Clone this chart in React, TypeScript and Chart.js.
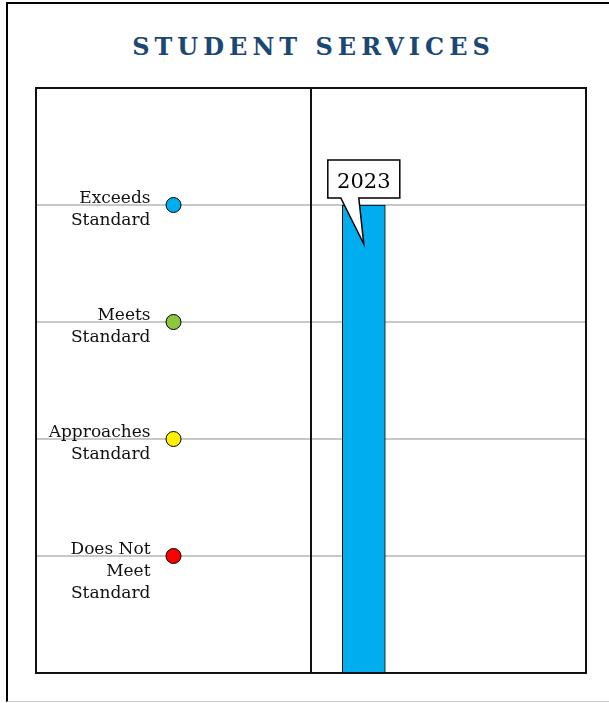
import React, { useEffect, useRef } from "react";
import { Chart, registerables } from "chart.js";

Chart.register(...registerables);

const TITLE = "STUDENT SERVICES";

// Performance levels (y values), their labels and marker colours
const LEVEL_VALUES = [4, 3, 2, 1];
const LEVEL_LABELS = [
  ["Exceeds", "Standard"],
  ["Meets", "Standard"],
  ["Approaches", "Standard"],
  ["Does Not", "Meet", "Standard"],
];
const LEVEL_COLORS = ["#00AEEF", "#8DC63F", "#FFF200", "#FF0000"];
const LEGEND_X = 2.5;

// Years shown in the right panel
const YEARS = ["2023"];
const YEAR_X = [5.96];
const YEAR_VALUES = [4];
const BAR_COLORS = ["#00AEEF"];

const X_MIN = 0;
const X_MAX = 10;
const DIVIDER_X = 5;
const Y_MIN = 0;
const Y_MAX = 5;

const LABEL_FONT = "17px 'DejaVu Serif'";
const CALLOUT_FONT = "21px 'DejaVu Serif'";

const panelPlugin = {
  id: "panelPlugin",
  afterDatasetsDraw(chart: any) {
    const { ctx, chartArea, scales } = chart;
    const xs = scales.x;

    // level labels next to the scatter markers
    const dotMeta = chart.getDatasetMeta(1);
    ctx.save();
    ctx.font = LABEL_FONT;
    ctx.fillStyle = "#111111";
    ctx.textAlign = "right";
    ctx.textBaseline = "alphabetic";
    dotMeta.data.forEach((el: any, i: number) => {
      const lines = LEVEL_LABELS[i] || [];
      lines.forEach((line: string, j: number) => {
        ctx.fillText(line, el.x - 23, el.y - 2 + j * 22);
      });
    });
    ctx.restore();

    // divider and frame
    ctx.save();
    ctx.strokeStyle = "#111111";
    ctx.lineWidth = 2;
    const dx = Math.round(xs.getPixelForValue(DIVIDER_X));
    ctx.beginPath();
    ctx.moveTo(dx, chartArea.top);
    ctx.lineTo(dx, chartArea.bottom);
    ctx.stroke();
    ctx.strokeRect(
      chartArea.left,
      chartArea.top,
      chartArea.right - chartArea.left,
      chartArea.bottom - chartArea.top
    );
    ctx.restore();

    // callouts for the bars
    const barMeta = chart.getDatasetMeta(0);
    barMeta.data.forEach((el: any, i: number) => {
      const x = el.x;
      const y = el.y;
      const l = x - 36;
      const r = x + 36;
      const t = y - 45;
      const b = y - 7;
      ctx.save();
      ctx.beginPath();
      ctx.moveTo(l, t);
      ctx.lineTo(r, t);
      ctx.lineTo(r, b);
      ctx.lineTo(x - 5, b);
      ctx.lineTo(x, y + 39);
      ctx.lineTo(x - 23, b);
      ctx.lineTo(l, b);
      ctx.closePath();
      ctx.fillStyle = "#ffffff";
      ctx.fill();
      ctx.strokeStyle = "#000000";
      ctx.lineWidth = 1.5;
      ctx.lineJoin = "miter";
      ctx.stroke();
      ctx.font = CALLOUT_FONT;
      ctx.fillStyle = "#000000";
      ctx.textAlign = "center";
      ctx.textBaseline = "alphabetic";
      ctx.fillText(YEARS[i], x, y - 17);
      ctx.restore();
    });
  },
};

export default function App() {
  const canvasRef = useRef<HTMLCanvasElement | null>(null);

  useEffect(() => {
    if (!canvasRef.current) return;
    const chart = new Chart(canvasRef.current, {
      type: "bar",
      data: {
        datasets: [
          {
            type: "bar",
            label: YEARS[0],
            data: YEAR_X.map((x, i) => ({ x, y: YEAR_VALUES[i] })),
            backgroundColor: BAR_COLORS,
            borderColor: "#000000",
            borderWidth: 1,
            barThickness: 43,
            borderSkipped: "start",
          } as any,
          {
            type: "scatter",
            label: "levels",
            data: LEVEL_VALUES.map((v) => ({ x: LEGEND_X, y: v })),
            backgroundColor: LEVEL_COLORS,
            borderColor: "#000000",
            borderWidth: 1,
            pointRadius: 7.5,
            pointHoverRadius: 7.5,
          } as any,
        ],
      },
      options: {
        responsive: false,
        animation: false,
        devicePixelRatio: 1,
        layout: { padding: { left: 36, top: 88, right: 23, bottom: 30 } },
        plugins: {
          legend: { display: false },
          tooltip: { enabled: false },
          title: { display: false },
        },
        events: [],
        scales: {
          x: {
            type: "linear",
            min: X_MIN,
            max: X_MAX,
            offset: false,
            display: false,
          },
          y: {
            type: "linear",
            min: Y_MIN,
            max: Y_MAX,
            ticks: { stepSize: 1, display: false },
            grid: {
              color: (c: any) =>
                c.tick && (c.tick.value === Y_MIN || c.tick.value === Y_MAX)
                  ? "rgba(0,0,0,0)"
                  : "#c8c8c8",
              lineWidth: 2,
              drawTicks: false,
            },
            border: { display: false },
          },
        },
      } as any,
      plugins: [panelPlugin],
    });
    return () => chart.destroy();
  }, []);

  return (
    <div>
      <div
        style={{
          position: "absolute",
          left: 6,
          top: 2,
          width: 603,
          height: 700,
          boxSizing: "border-box",
          borderLeft: "2px solid #000",
          borderTop: "2px solid #000",
          borderBottom: "1px solid #cccccc",
        }}
      />
      <div
        style={{
          position: "absolute",
          left: 36,
          top: 31,
          width: 550,
          textAlign: "center",
          fontFamily: "'DejaVu Serif', serif",
          fontWeight: "bold",
          fontSize: 24,
          letterSpacing: 5,
          paddingLeft: 5,
          boxSizing: "border-box",
          color: "#1b4872",
          lineHeight: "32px",
        }}
      >
        {TITLE}
      </div>
      <canvas
        ref={canvasRef}
        width={609}
        height={703}
        style={{ position: "absolute", left: 0, top: 0, width: 609, height: 703 }}
      />
    </div>
  );
}
